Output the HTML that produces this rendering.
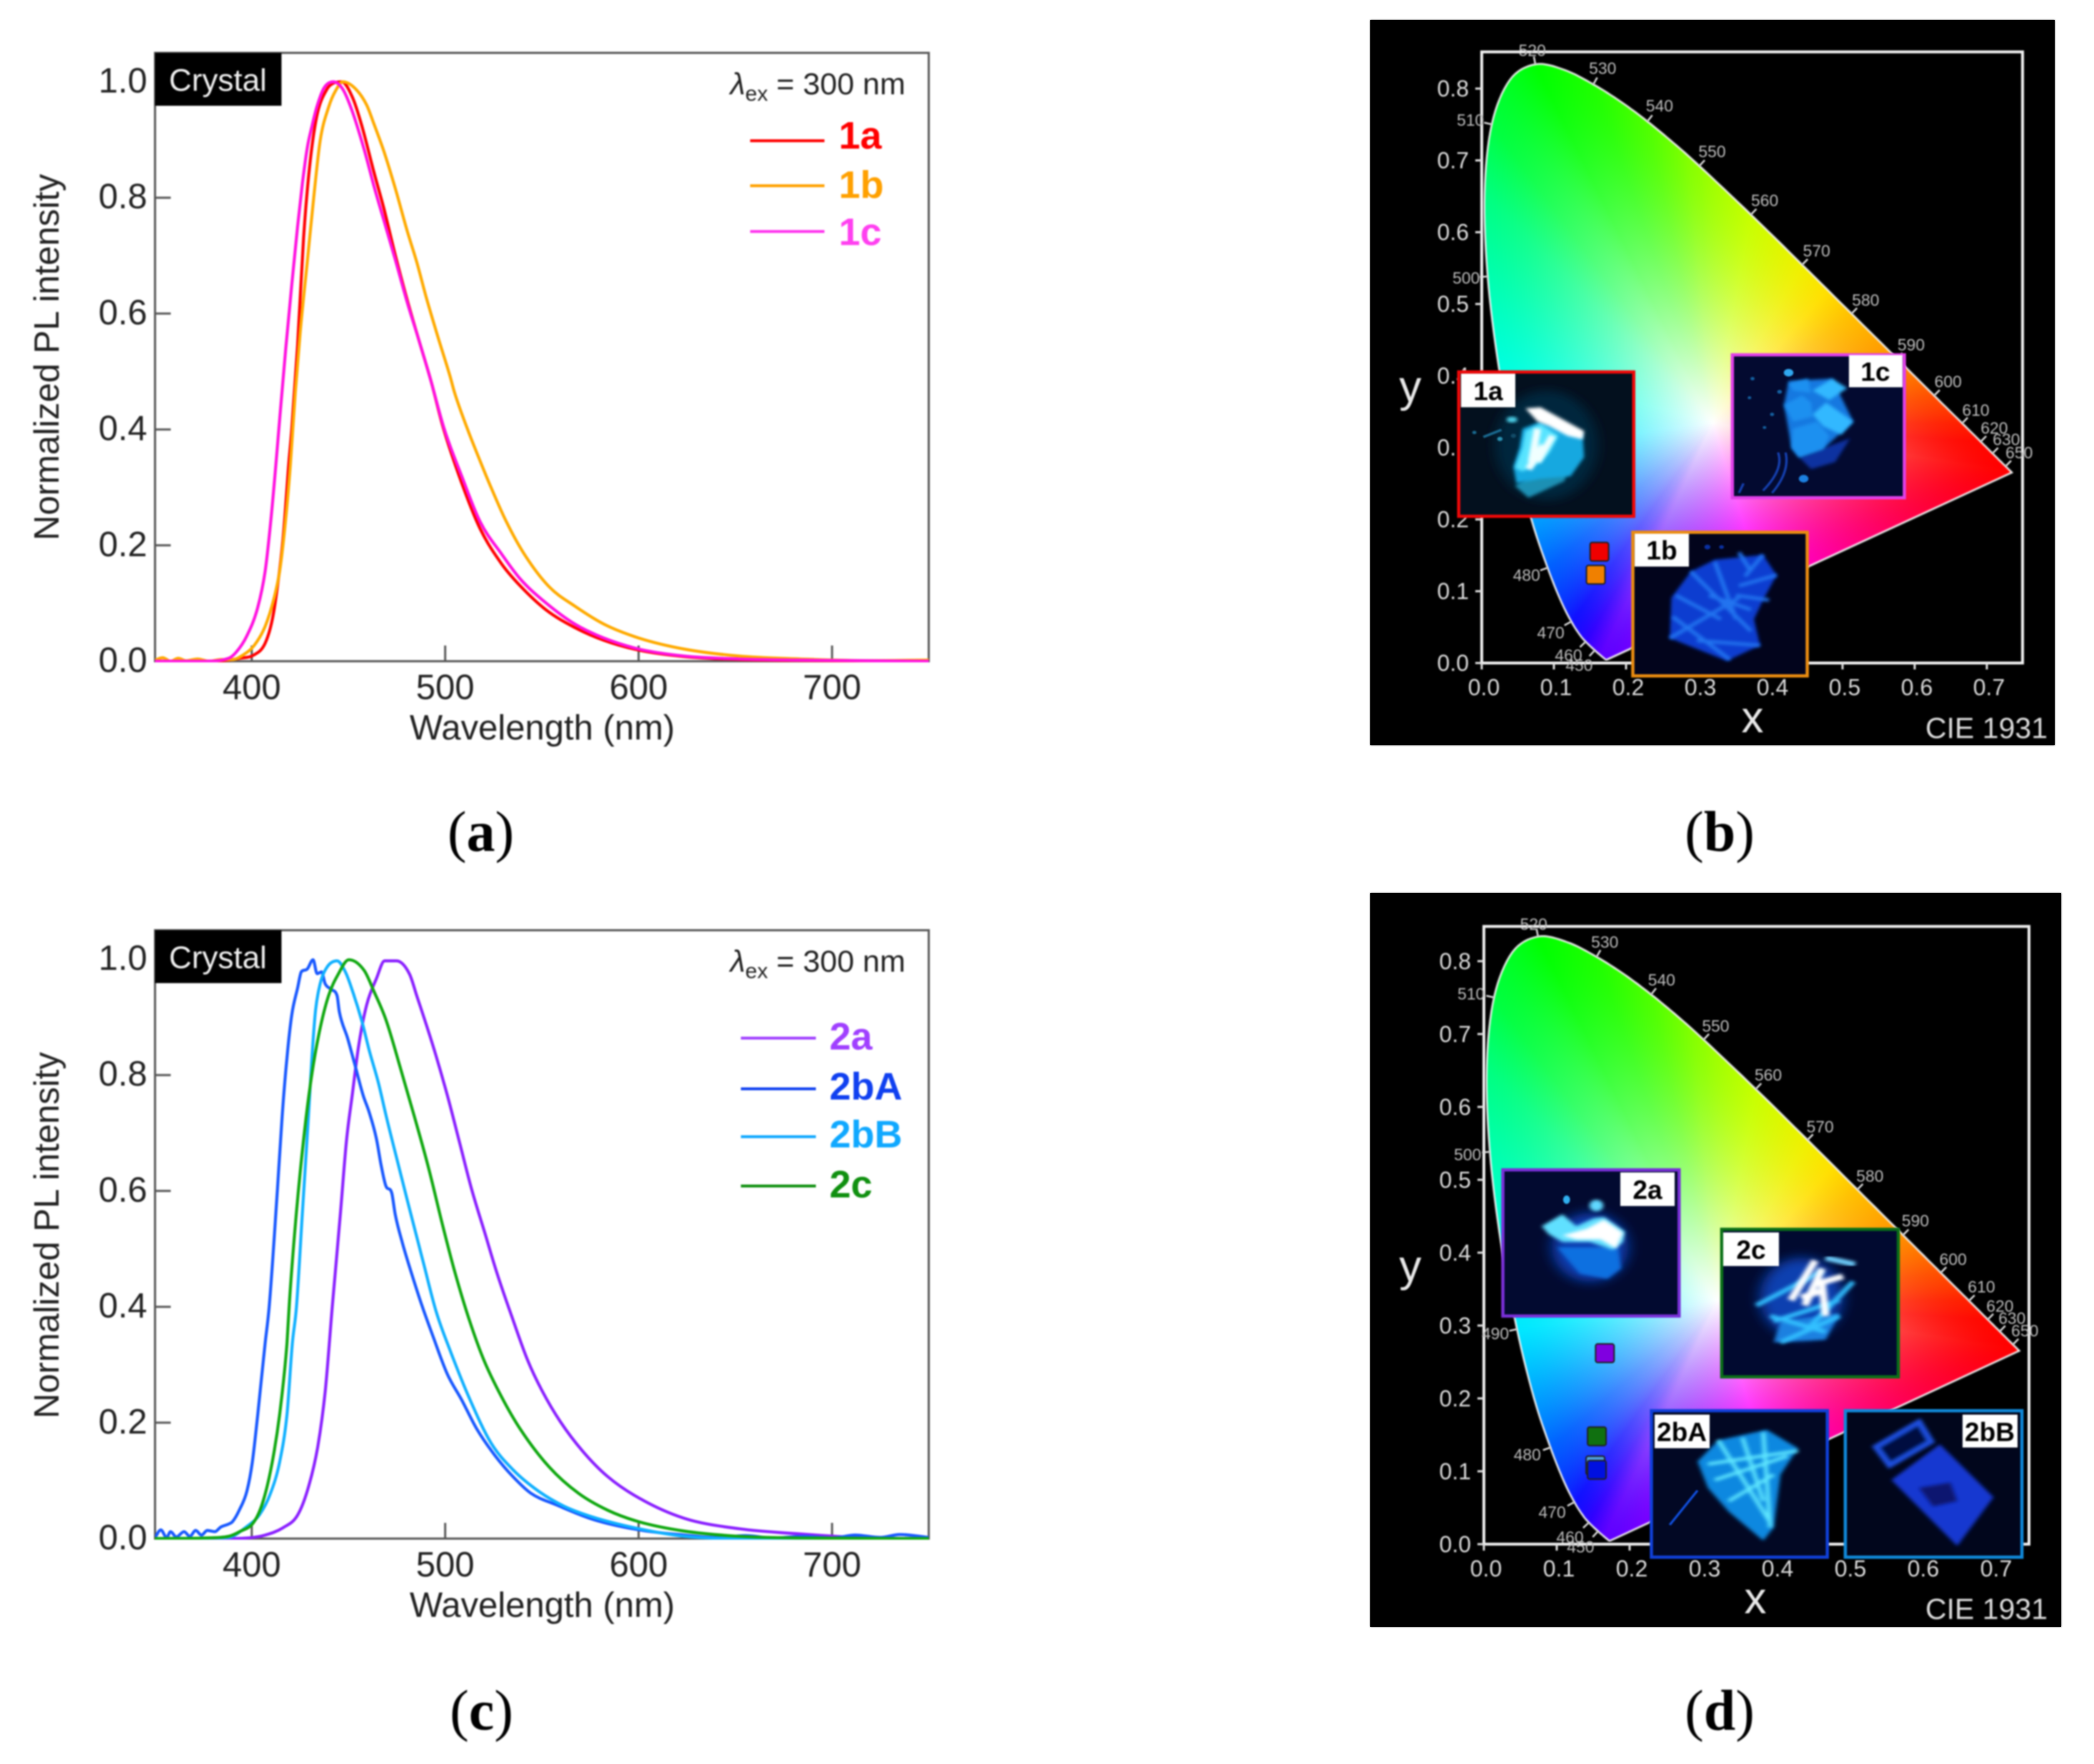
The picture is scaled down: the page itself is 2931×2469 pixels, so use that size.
<!DOCTYPE html>
<html lang="en">
<head>
<meta charset="utf-8">
<title>PL spectra and CIE 1931 diagrams</title>
<style>
html,body{margin:0;padding:0;background:#fff;}
#page{position:relative;width:2931px;height:2469px;overflow:hidden;background:#fff;font-family:"Liberation Sans",sans-serif;}
.panel{position:absolute;background:#000;}
canvas{position:absolute;display:block;filter:blur(1px);}
svg{position:absolute;left:0;top:0;filter:blur(1.1px);}
text{font-family:"Liberation Sans",sans-serif;}
.serif{font-family:"Liberation Serif",serif;font-size:80px;fill:#000;text-anchor:middle;}
.ax{font-size:49px;fill:#222;}
.wl{font-size:23px;fill:#bdbdbd;text-anchor:middle;}
.cie{font-size:32px;fill:#dcdcdc;}
.tag{font-size:37px;font-weight:bold;fill:#000;text-anchor:middle;}
.leg{font-size:54px;font-weight:bold;}
.bd{vector-effect:non-scaling-stroke;stroke-width:4.5;}
</style>
</head>
<body>
<div id="page">
  <div class="panel" style="left:1918px;top:28px;width:958px;height:1015px"></div>
  <div class="panel" style="left:1918px;top:1250px;width:967px;height:1027px"></div>
  <canvas id="canvas-b" width="958" height="1015" style="left:1918px;top:28px"></canvas>
  <canvas id="canvas-d" width="967" height="1027" style="left:1918px;top:1250px"></canvas>

  <svg id="art" width="2931" height="2469" viewBox="0 0 2931 2469" xmlns="http://www.w3.org/2000/svg">
    <defs>
      <filter id="soft" x="-20%" y="-20%" width="140%" height="140%"><feGaussianBlur stdDeviation="6"/></filter>
      <filter id="softer" x="-40%" y="-40%" width="180%" height="180%"><feGaussianBlur stdDeviation="20"/></filter>
      <clipPath id="clip-a"><rect x="217" y="74" width="1083" height="853"/></clipPath>
      <clipPath id="clip-c"><rect x="217" y="1302" width="1083" height="853"/></clipPath>
      <clipPath id="clip-1a"><rect x="28" y="62" width="582" height="606"/></clipPath>
      <clipPath id="clip-1b"><rect x="607" y="735" width="580" height="603"/></clipPath>
      <clipPath id="clip-1c"><rect x="938" y="-10" width="572" height="600"/></clipPath>
      <clipPath id="clip-2a"><rect x="28" y="47" width="509" height="553"/></clipPath>
      <clipPath id="clip-2c"><rect x="660" y="272" width="510" height="558"/></clipPath>
      <clipPath id="clip-2bA"><rect x="457" y="958" width="508" height="554"/></clipPath>
      <clipPath id="clip-2bB"><rect x="1017" y="958" width="510" height="554"/></clipPath>
    </defs>

    <!-- Panel a -->
    <g id="axes-a">
      <text class="ax" transform="translate(82,500) rotate(-90)" text-anchor="middle">Normalized PL intensity</text>
      <text class="ax" x="759" y="1035" text-anchor="middle">Wavelength (nm)</text>
    </g>
    <g id="lines-a" clip-path="url(#clip-a)"></g>
    <g>
      <rect x="217" y="74" width="177" height="74" fill="#000"/>
      <text x="305" y="127" font-size="44" fill="#f0f0f0" text-anchor="middle">Crystal</text>
      <text x="1022" y="132" font-size="43" fill="#222"><tspan font-style="italic">λ</tspan><tspan font-size="30" dy="9">ex</tspan><tspan dy="-9"> = 300 nm</tspan></text>
      <line x1="1050" x2="1154" y1="197" y2="197" stroke="#ff0000" stroke-width="4"/>
      <line x1="1050" x2="1154" y1="260" y2="260" stroke="#ffa000" stroke-width="4"/>
      <line x1="1050" x2="1154" y1="324" y2="324" stroke="#ff33ee" stroke-width="4"/>
      <text class="leg" x="1174" y="208" fill="#ff0000">1a</text>
      <text class="leg" x="1174" y="277" fill="#ffa000">1b</text>
      <text class="leg" x="1174" y="343" fill="#ff40f0">1c</text>
    </g>
    <text class="serif" x="673" y="1191">(<tspan font-weight="bold">a</tspan>)</text>

    <!-- Panel c -->
    <g id="axes-c">
      <text class="ax" transform="translate(82,1729) rotate(-90)" text-anchor="middle">Normalized PL intensity</text>
      <text class="ax" x="759" y="2263" text-anchor="middle">Wavelength (nm)</text>
    </g>
    <g id="lines-c" clip-path="url(#clip-c)"></g>
    <g>
      <rect x="217" y="1302" width="177" height="74" fill="#000"/>
      <text x="305" y="1355" font-size="44" fill="#f0f0f0" text-anchor="middle">Crystal</text>
      <text x="1022" y="1360" font-size="43" fill="#222"><tspan font-style="italic">λ</tspan><tspan font-size="30" dy="9">ex</tspan><tspan dy="-9"> = 300 nm</tspan></text>
      <line x1="1037" x2="1142" y1="1453" y2="1453" stroke="#a040ff" stroke-width="4"/>
      <line x1="1037" x2="1142" y1="1524" y2="1524" stroke="#1040f0" stroke-width="4"/>
      <line x1="1037" x2="1142" y1="1591" y2="1591" stroke="#10a8ff" stroke-width="4"/>
      <line x1="1037" x2="1142" y1="1660" y2="1660" stroke="#109010" stroke-width="4"/>
      <text class="leg" x="1161" y="1469" fill="#a040ff">2a</text>
      <text class="leg" x="1161" y="1539" fill="#1040f0">2bA</text>
      <text class="leg" x="1161" y="1606" fill="#10a8ff">2bB</text>
      <text class="leg" x="1161" y="1676" fill="#109010">2c</text>
    </g>
    <text class="serif" x="674" y="2421">(<tspan font-weight="bold">c</tspan>)</text>

    <!-- Panel b -->
    <g id="axes-b"></g>
    <g transform="translate(9.7,0) scale(0.9949)">
      <text class="wl" x="2146" y="79">520</text>
      <text class="wl" x="2245" y="104">530</text>
      <text class="wl" x="2325" y="157">540</text>
      <text class="wl" x="2399" y="221">550</text>
      <text class="wl" x="2473" y="290">560</text>
      <text class="wl" x="2546" y="361">570</text>
      <text class="wl" x="2615" y="430">580</text>
      <text class="wl" x="2679" y="493">590</text>
      <text class="wl" x="2731" y="545">600</text>
      <text class="wl" x="2770" y="585">610</text>
      <text class="wl" x="2796" y="610">620</text>
      <text class="wl" x="2813" y="626">630</text>
      <text class="wl" x="2831" y="645">650</text>
      <text class="wl" x="2059" y="177">510</text>
      <text class="wl" x="2053" y="399">500</text>
      <text class="wl" x="2138" y="817">480</text>
      <text class="wl" x="2172" y="898">470</text>
      <text class="wl" x="2197" y="930">460</text>
      <text class="wl" x="2212" y="944">450</text>
    </g>
    <text x="2453" y="1025" font-size="62" fill="#e8e8e8" text-anchor="middle">x</text>
    <text x="1974" y="562" font-size="62" fill="#e8e8e8" text-anchor="middle">y</text>
    <text x="2866" y="1033" font-size="41" fill="#dcdcdc" text-anchor="end">CIE 1931</text>
    <g id="marks-b"></g>

    <g transform="translate(2030,500) scale(0.4209,0.3333)">
      <g>
        <rect x="28" y="62" width="582" height="606" fill="#03101e"/>
        <g clip-path="url(#clip-1a)">
          <ellipse cx="320" cy="370" rx="170" ry="230" fill="#05283e" filter="url(#softer)"/>
          <path d="M215 540L300 470L390 470L380 520L260 590Z" fill="#1a90b4" filter="url(#soft)"/>
          <path d="M240 300L300 270L440 320L445 420L400 500L300 510L220 530L210 460L230 380Z" fill="#18a8e0" filter="url(#soft)"/>
          <path d="M250 310L300 280L360 330L330 400L300 440L240 480L215 465L240 380Z" fill="#58e4ff" filter="url(#soft)"/>
          <path d="M250 215L300 210L445 310L440 345L390 330L330 290L290 270Z" fill="#fff" filter="url(#soft)"/>
          <path d="M290 300L270 440M340 330L290 440M310 370L260 470" stroke="#f0ffff" stroke-width="24" fill="none" filter="url(#soft)"/>
          <ellipse cx="205" cy="262" rx="18" ry="12" fill="#50d8f0" filter="url(#soft)"/>
          <path d="M110 335L170 305" stroke="#1a6a90" stroke-width="10" fill="none"/>
          <circle cx="80" cy="316" r="7" fill="#1a6a90"/><circle cx="165" cy="343" r="9" fill="#2a90b0"/><circle cx="210" cy="330" r="9" fill="#124a66"/>
        </g>
        <rect class="bd" x="28" y="62" width="582" height="606" fill="none" stroke="#f00808"/>
      </g>
      <g>
        <rect x="607" y="735" width="580" height="603" fill="#02041c"/>
        <g clip-path="url(#clip-1b)">
          <path d="M735 1010L800 900L880 850L1040 830L1085 915L1040 1020L1010 1100L1030 1210L920 1275L730 1180Z" fill="#0a3cd0" filter="url(#soft)"/>
          <path d="M750 1000L900 1100M800 900L1000 1150M880 860L950 1100M960 820L1000 900M1040 830L980 920M1085 915L960 960M1060 1020L950 1000M740 1090L930 1270M730 1180L960 1010M820 1190L1030 1210M860 1000L1000 1060" stroke="#2474f0" stroke-width="14" fill="none" filter="url(#soft)"/>
          <circle cx="855" cy="797" r="10" fill="#0a30a0"/><circle cx="902" cy="797" r="8" fill="#0a30a0"/>
        </g>
        <rect class="bd" x="607" y="735" width="580" height="603" fill="none" stroke="#ea8c10"/>
      </g>
      <g>
        <rect x="938" y="-10" width="572" height="600" fill="#030a30"/>
        <g clip-path="url(#clip-1c)">
          <path d="M1160 420L1330 340L1280 440L1200 470Z" fill="#0c30a0" filter="url(#soft)"/>
          <path d="M1110 200L1125 100L1270 90L1340 270L1240 385L1160 420L1135 380Z" fill="#1478e0" filter="url(#soft)"/>
          <path d="M1125 110L1190 90L1200 150L1140 140ZM1110 200L1170 160L1200 190L1205 250L1140 270ZM1140 300L1220 270L1260 330L1240 385L1160 420L1135 380Z" fill="#1c90f0" filter="url(#soft)"/>
          <path d="M1205 140L1270 90L1320 130L1260 180ZM1205 240L1250 190L1340 270L1300 325L1240 290Z" fill="#30b8ff" filter="url(#soft)"/>
          <path d="M1040 560Q1110 470 1090 400M1070 570Q1130 480 1115 400M960 570L975 530" stroke="#1540b0" stroke-width="8" fill="none"/>
          <circle cx="1125" cy="65" r="16" fill="#30a8f0"/><circle cx="1175" cy="510" r="16" fill="#1c80e0"/>
          <circle cx="1070" cy="240" r="7" fill="#1560a0"/><circle cx="1095" cy="145" r="8" fill="#1560a0"/><circle cx="995" cy="170" r="6" fill="#1560a0"/><circle cx="1045" cy="295" r="6" fill="#1560a0"/><circle cx="1005" cy="90" r="7" fill="#1560a0"/>
        </g>
        <rect class="bd" x="938" y="-10" width="572" height="600" fill="none" stroke="#e040e8"/>
      </g>
    </g>
    <g>
      <rect x="2045" y="523" width="76" height="47" fill="#fff"/>
      <text class="tag" x="2083" y="560">1a</text>
      <rect x="2588" y="497" width="75" height="45" fill="#fff"/>
      <text class="tag" x="2625" y="533">1c</text>
      <rect x="2288" y="747" width="76" height="46" fill="#fff"/>
      <text class="tag" x="2326" y="783">1b</text>
    </g>
    <text class="serif" x="2407" y="1191">(<tspan font-weight="bold">b</tspan>)</text>

    <!-- Panel d -->
    <g id="axes-d"></g>
    <g transform="translate(9.7,6.3) scale(0.9949)">
      <text class="wl" x="2148" y="1302">520</text>
      <text class="wl" x="2248" y="1327">530</text>
      <text class="wl" x="2328" y="1380">540</text>
      <text class="wl" x="2404" y="1445">550</text>
      <text class="wl" x="2478" y="1514">560</text>
      <text class="wl" x="2551" y="1587">570</text>
      <text class="wl" x="2621" y="1656">580</text>
      <text class="wl" x="2685" y="1719">590</text>
      <text class="wl" x="2738" y="1773">600</text>
      <text class="wl" x="2778" y="1812">610</text>
      <text class="wl" x="2804" y="1839">620</text>
      <text class="wl" x="2821" y="1856">630</text>
      <text class="wl" x="2839" y="1874">650</text>
      <text class="wl" x="2060" y="1400">510</text>
      <text class="wl" x="2055" y="1626">500</text>
      <text class="wl" x="2094" y="1878">490</text>
      <text class="wl" x="2139" y="2048">480</text>
      <text class="wl" x="2174" y="2129">470</text>
      <text class="wl" x="2199" y="2164">460</text>
      <text class="wl" x="2214" y="2178">450</text>
    </g>
    <text x="2457" y="2258" font-size="62" fill="#e8e8e8" text-anchor="middle">x</text>
    <text x="1974" y="1793" font-size="62" fill="#e8e8e8" text-anchor="middle">y</text>
    <text x="2866" y="2266" font-size="41" fill="#dcdcdc" text-anchor="end">CIE 1931</text>
    <g id="marks-d"></g>

    <g transform="translate(2090,1620) scale(0.4847,0.37)">
      <g>
        <rect x="28" y="47" width="509" height="553" fill="#020a30"/>
        <g clip-path="url(#clip-2a)">
          <ellipse cx="280" cy="340" rx="110" ry="130" fill="#0a3cb0" filter="url(#softer)"/>
          <path d="M185 340L360 340L370 420L330 460L250 440Z" fill="#1070e0" filter="url(#soft)"/>
          <path d="M140 260L200 215L240 260L290 230L320 225L380 280L375 320L345 350L280 320L200 320L160 290Z" fill="#60e0ff" filter="url(#soft)"/>
          <path d="M200 295L270 270L320 235L375 285L355 345L310 310L240 310Z" fill="#fff" filter="url(#soft)"/>
          <ellipse cx="212" cy="160" rx="10" ry="16" fill="#30b0f0"/>
          <ellipse cx="298" cy="182" rx="20" ry="22" fill="#60d8ff" filter="url(#soft)"/>
        </g>
        <rect class="bd" x="28" y="47" width="509" height="553" fill="none" stroke="#7a30d8"/>
      </g>
      <g>
        <rect x="660" y="272" width="510" height="558" fill="#010a30"/>
        <g clip-path="url(#clip-2c)">
          <ellipse cx="890" cy="530" rx="120" ry="150" fill="#0a40b0" filter="url(#softer)"/>
          <path d="M810 700L830 620L1000 590L960 690Z" fill="#1a80e0" filter="url(#soft)"/>
          <path d="M760 560L950 430M810 620L1000 540M830 700L1000 600M900 660L1040 470M800 600L960 660" stroke="#30c0ff" stroke-width="16" fill="none" filter="url(#soft)"/>
          <path d="M860 540L930 390M900 560L950 420M960 600L950 480M930 480L1010 450M890 530L960 500" stroke="#fff" stroke-width="22" fill="none" filter="url(#soft)"/>
          <path d="M960 380L1045 405" stroke="#70d0ff" stroke-width="20" fill="none" filter="url(#soft)"/>
        </g>
        <rect class="bd" x="660" y="272" width="510" height="558" fill="none" stroke="#0a7018"/>
      </g>
      <g>
        <rect x="457" y="958" width="508" height="554" fill="#020824"/>
        <g clip-path="url(#clip-2bA)">
          <path d="M590 1150L650 1070L790 1030L880 1100L830 1200L810 1400L780 1450L680 1340L620 1250Z" fill="#1088e0" filter="url(#soft)"/>
          <path d="M620 1160L880 1110M650 1070L800 1380M720 1060L780 1300M640 1220L850 1130M680 1300L810 1200M780 1040L800 1400" stroke="#60e8ff" stroke-width="12" fill="none" filter="url(#soft)"/>
          <path d="M510 1390L590 1260" stroke="#1050e0" stroke-width="7" fill="none"/>
        </g>
        <rect class="bd" x="457" y="958" width="508" height="554" fill="none" stroke="#1040d8"/>
      </g>
      <g>
        <rect x="1017" y="958" width="510" height="554" fill="#01061c"/>
        <g clip-path="url(#clip-2bB)">
          <path d="M1150 1220L1290 1085L1445 1285L1340 1470Z" fill="#1238d0" filter="url(#soft)"/>
          <path d="M1230 1250L1320 1230L1340 1300L1270 1320Z" fill="#0c1870" filter="url(#soft)"/>
          <path d="M1105 1095L1230 1000L1265 1075L1145 1165Z" fill="#040c40" stroke="#1c50e0" stroke-width="18" filter="url(#soft)"/>
        </g>
        <rect class="bd" x="1017" y="958" width="510" height="554" fill="none" stroke="#1088d8"/>
      </g>
    </g>
    <g>
      <rect x="2268" y="1641" width="76" height="47" fill="#fff"/>
      <text class="tag" x="2306" y="1678">2a</text>
      <rect x="2412" y="1725" width="78" height="47" fill="#fff"/>
      <text class="tag" x="2451" y="1762">2c</text>
      <rect x="2316" y="1980" width="77" height="47" fill="#fff"/>
      <text class="tag" x="2354" y="2017">2bA</text>
      <rect x="2747" y="1980" width="77" height="46" fill="#fff"/>
      <text class="tag" x="2785" y="2017">2bB</text>
    </g>
    <text class="serif" x="2407" y="2421">(<tspan font-weight="bold">d</tspan>)</text>
  </svg>
</div>

<script>
// ---- Spectra ----
const xTicks = [400, 500, 600, 700];
const yTicks = ['0.0', '0.2', '0.4', '0.6', '0.8', '1.0'];

const wl1a = [350,380,388,393.7,401.2,406.9,410.7,413.5,416.3,419.1,420.7,423.7,426.8,429.9,433.6,438.5,442.5,446.5,452.1,457,463.1,468.1,474.2,480.4,486.5,492.7,498.8,508.6,518,529.4,538.8,552,567.1,582.1,600.2,623.6,651.9,690,750];
const pl1a = [0,0,0.002,0.005,0.011,0.031,0.073,0.134,0.216,0.34,0.401,0.545,0.73,0.853,0.94,0.985,0.998,1,0.973,0.923,0.845,0.784,0.701,0.623,0.553,0.483,0.405,0.307,0.229,0.167,0.13,0.089,0.058,0.036,0.019,0.008,0.003,0.001,0];

const wl1b = [350,354,358,362,366,372,378,384,390,395.6,401.2,406.9,411.6,414.4,417.2,420,422.5,425,428.7,432.4,435.4,439.7,443.4,447.1,453.3,459.4,463.1,468.1,474.2,480.4,485.3,490.2,496.4,502.5,504.9,512.4,518,523.7,531.3,540.7,553.9,567.1,582.1,600.2,623.6,651.9,683.5,720,750];
const pl1b = [0.002,0.006,0,0.005,0.001,0.004,0,0.003,0.003,0.011,0.027,0.06,0.11,0.155,0.233,0.34,0.463,0.566,0.689,0.812,0.899,0.956,0.985,1,0.989,0.96,0.928,0.882,0.816,0.742,0.689,0.628,0.558,0.492,0.463,0.393,0.346,0.3,0.243,0.186,0.128,0.095,0.064,0.04,0.021,0.009,0.004,0.001,0.002];

const wl1c = [350,375,388,391.8,397.5,403.1,406.9,409.7,412.5,414.5,417.6,420.7,423.7,426.2,428.7,431.1,433.6,437.3,442.2,447.1,452.1,458.2,463.1,468.1,474.2,480.4,486.5,492.7,499.5,508.6,518,529.4,538.8,552,567.1,582.1,600.2,623.6,651.9,683.5,750];
const pl1c = [0,0,0.005,0.015,0.044,0.093,0.155,0.237,0.34,0.42,0.54,0.65,0.75,0.825,0.886,0.923,0.956,0.989,1,0.987,0.948,0.882,0.821,0.763,0.693,0.619,0.553,0.483,0.401,0.319,0.241,0.184,0.142,0.101,0.064,0.04,0.021,0.009,0.004,0.002,0];

const wl2a = [350,385,397.5,406.9,416.3,423.8,429.5,434.2,438,441.6,445.9,449,452.1,455.1,459.4,464.4,468.7,474.8,481.6,485.3,491.4,495.1,501.3,507.5,513.6,521,526.5,535,542.6,550.1,559.5,570.8,584,600.2,623.6,651.9,683.5,720,750];
const pl2a = [0,0,0.001,0.006,0.019,0.041,0.091,0.16,0.255,0.399,0.563,0.687,0.769,0.847,0.921,0.966,0.997,0.997,0.974,0.937,0.875,0.835,0.763,0.683,0.604,0.522,0.461,0.378,0.308,0.255,0.202,0.152,0.107,0.07,0.035,0.017,0.008,0.001,0];

const wl2bA = [350,353,356,358,361,365,368,371,374,377,381,384,388,390,393.7,397.5,400.3,403.1,406.9,409,413.3,415.7,418.2,420.7,423.7,425.6,428.7,431.7,433.8,436.1,437.9,441,444.1,445.3,449.6,453.3,457.6,460.7,464.4,466.8,469.3,472.4,474.2,477.9,482.3,487.9,493.6,501.1,508.6,516.2,525.6,535,544.4,557.6,576.5,600.2,623.6,640,655,670,685,700,712,725,735,750];
const pl2bA = [0.002,0.015,0.002,0.012,0.003,0.012,0.004,0.014,0.006,0.014,0.012,0.02,0.025,0.029,0.05,0.082,0.132,0.214,0.337,0.399,0.604,0.728,0.83,0.904,0.95,0.978,0.983,0.999,0.975,0.978,0.958,0.948,0.937,0.909,0.863,0.818,0.765,0.736,0.691,0.646,0.609,0.596,0.559,0.51,0.461,0.403,0.35,0.284,0.239,0.19,0.144,0.107,0.078,0.058,0.033,0.015,0.006,0.002,0.005,0.001,0.004,0.001,0.006,0.002,0.007,0.002];

const wl2bB = [350,380,388,397.5,404,409.7,414.4,418.2,421,423.1,426.2,429.3,431.1,433,435.4,439.1,444.1,448.4,452.1,457,460.7,465.6,469.3,474.2,480.4,486.5,488.9,495.4,503,512.4,523.7,535,548.2,561.4,576.5,600.2,623.6,651.9,750];
const pl2bB = [0,0.001,0.002,0.021,0.041,0.078,0.132,0.214,0.337,0.399,0.563,0.728,0.83,0.912,0.958,0.987,0.997,0.978,0.945,0.892,0.843,0.785,0.732,0.666,0.584,0.505,0.474,0.391,0.321,0.243,0.165,0.119,0.082,0.056,0.037,0.017,0.004,0,0];

const wl2c = [350,375,388,393.7,401.2,406,410.6,414.4,418.2,419.5,423.1,427.4,431.1,434.8,439.7,444.7,450.2,458.2,463.1,469.3,476.7,484.1,491.4,498.8,504.9,512.4,520,529.4,538.8,553.9,569,584,600.2,623.6,651.9,683.5,750];
const pl2c = [0,0.001,0.004,0.012,0.029,0.066,0.132,0.214,0.337,0.41,0.563,0.707,0.802,0.872,0.937,0.974,0.999,0.98,0.945,0.896,0.814,0.728,0.64,0.539,0.461,0.378,0.308,0.243,0.189,0.123,0.078,0.049,0.029,0.013,0.004,0.001,0];

// ---- CIE 1931 spectral locus ----
const locusNm = [380,400,420,440,450,460,465,470,475,480,485,490,495,500,505,510,515,520,525,530,535,540,545,550,560,570,580,590,600,610,620,630,640,650,700];
const locusX = [0.1741,0.1733,0.1714,0.1644,0.1566,0.1440,0.1355,0.1241,0.1096,0.0913,0.0687,0.0454,0.0235,0.0082,0.0039,0.0139,0.0389,0.0743,0.1142,0.1547,0.1929,0.2296,0.2658,0.3016,0.3731,0.4441,0.5125,0.5752,0.6270,0.6658,0.6915,0.7079,0.7190,0.7260,0.7347];
const locusY = [0.0050,0.0048,0.0051,0.0109,0.0177,0.0297,0.0399,0.0578,0.0868,0.1327,0.2007,0.2950,0.4127,0.5384,0.6548,0.7502,0.8120,0.8338,0.8262,0.8059,0.7816,0.7543,0.7243,0.6923,0.6245,0.5547,0.4866,0.4242,0.3725,0.3340,0.3083,0.2920,0.2809,0.2740,0.2653];
const locusTicks = [450,460,470,480,490,500,510,520,530,540,550,560,570,580,590,600,610,620,630,650];
const hueNm = [380,440,450,460,470,480,485,490,495,500,505,510,520,530,540,550,560,570,575,580,590,600,610,620,650,700];
const hueRGB = ['#6000ff','#6000ff','#5000ff','#3000ff','#1010ff','#0060ff','#00a0ff','#00e8ff','#00ffe0','#00ffb0','#00ff80','#00ff40','#00ff00','#20ff00','#50ff00','#90ff00','#c8ff00','#f0f000','#ffe000','#ffc000','#ff9000','#ff5000','#ff2000','#ff0800','#ff0000','#ff0000'];

const cieXTicks = ['0.0','0.1','0.2','0.3','0.4','0.5','0.6','0.7'];
const cieYTicks = ['0.0','0.1','0.2','0.3','0.4','0.5','0.6','0.7','0.8'];

const pointNamesB = ['1a','1b'];
const pointXB = [0.163,0.158];
const pointYB = [0.155,0.123];
const pointColorsB = ['#f00000','#f08000'];

const pointNamesD = ['2a','2c','2bB','2bA'];
const pointXD = [0.166,0.155,0.153,0.155];
const pointYD = [0.262,0.148,0.108,0.102];
const pointColorsD = ['#8000e0','#107010','#50a0e0','#0010e0'];

const NS = 'http://www.w3.org/2000/svg';
function mk(parent, tag, attrs, txt) {
  const el = document.createElementNS(NS, tag);
  for (const k in attrs) el.setAttribute(k, attrs[k]);
  if (txt !== undefined) el.textContent = txt;
  parent.appendChild(el);
  return el;
}

// Axis functions for spectra
function xPL(nm) { return 217 + (nm - 350) * 1083 / 400; }
function yA(v) { return 925.5 - v * 811; }
function yC(v) { return 2153.5 - v * 811; }

// Monotone cubic path through the data
function curve(wl, pl, yf) {
  const n = wl.length, X = wl.map(xPL), Y = pl.map(yf), d = [], m = [];
  for (let i = 0; i < n - 1; i++) d.push((Y[i + 1] - Y[i]) / (X[i + 1] - X[i]));
  m[0] = d[0]; m[n - 1] = d[n - 2];
  for (let i = 1; i < n - 1; i++) m[i] = d[i - 1] * d[i] <= 0 ? 0 : (d[i - 1] + d[i]) / 2;
  for (let i = 1; i < n - 1; i++) {
    const lim = 3 * Math.min(Math.abs(d[i - 1]), Math.abs(d[i]));
    if (Math.abs(m[i]) > lim) m[i] = Math.sign(m[i]) * lim;
  }
  let p = 'M' + X[0].toFixed(1) + ' ' + Y[0].toFixed(1);
  for (let i = 0; i < n - 1; i++) {
    const h = (X[i + 1] - X[i]) / 3;
    p += 'C' + (X[i] + h).toFixed(1) + ' ' + (Y[i] + m[i] * h).toFixed(1) + ' ' + (X[i + 1] - h).toFixed(1) + ' ' + (Y[i + 1] - m[i + 1] * h).toFixed(1) + ' ' + X[i + 1].toFixed(1) + ' ' + Y[i + 1].toFixed(1);
  }
  return p;
}

function plotAxes(id, yf, top, suffix) {
  const g = document.getElementById(id);
  const frame = mk(g, 'rect', {x: 217, y: top, width: 1083, height: yf(0) - top, fill: 'none', stroke: '#585858', 'stroke-width': 3});
  
  
  xTicks.forEach(function (t) {
    const tick = mk(g, 'line', {x1: xPL(t), x2: xPL(t), y1: yf(0), y2: yf(0) - 22, stroke: '#585858', 'stroke-width': 3});
    
    
    const lab = mk(g, 'text', {x: xPL(t), y: yf(0) + 53, 'text-anchor': 'middle', class: 'ax'}, String(t));
    
    
  });
  yTicks.forEach(function (t) {
    const v = parseFloat(t);
    if (v > 0 && v < 1) {
      const tick = mk(g, 'line', {x1: 217, x2: 239, y1: yf(v), y2: yf(v), stroke: '#585858', 'stroke-width': 3});
      
      
    }
    const lab = mk(g, 'text', {x: 206, y: yf(v) + 15, 'text-anchor': 'end', class: 'ax'}, t);
    
    
  });
}
plotAxes('axes-a', yA, 74, 'a');
plotAxes('axes-c', yC, 1302, 'c');

function drawLine(gid, wl, pl, yf, color, name) {
  const el = mk(document.getElementById(gid), 'path', {d: curve(wl, pl, yf), fill: 'none', stroke: color, 'stroke-width': 4.2, 'stroke-linejoin': 'round'});
  
  
}
drawLine('lines-a', wl1a, pl1a, yA, '#ff0000', 'series-1a');
drawLine('lines-a', wl1b, pl1b, yA, '#ffaa00', 'series-1b');
drawLine('lines-a', wl1c, pl1c, yA, '#ff10e0', 'series-1c');
drawLine('lines-c', wl2a, pl2a, yC, '#8a20ff', 'series-2a');
drawLine('lines-c', wl2bA, pl2bA, yC, '#1858ff', 'series-2bA');
drawLine('lines-c', wl2bB, pl2bB, yC, '#10b0ff', 'series-2bB');
drawLine('lines-c', wl2c, pl2c, yC, '#10a810', 'series-2c');

// ---- Chromaticity field: each pixel blends the white point with the locus hue on its ray ----
function hex(c) { return [parseInt(c.slice(1, 3), 16), parseInt(c.slice(3, 5), 16), parseInt(c.slice(5, 7), 16)]; }
function hueAt(nm) {
  let i = 0;
  while (i < hueNm.length - 2 && hueNm[i + 1] < nm) i++;
  const t = Math.max(0, Math.min(1, (nm - hueNm[i]) / (hueNm[i + 1] - hueNm[i])));
  const a = hex(hueRGB[i]), b = hex(hueRGB[i + 1]);
  return [a[0] + (b[0] - a[0]) * t, a[1] + (b[1] - a[1]) * t, a[2] + (b[2] - a[2]) * t];
}
function denseLocus() {
  const out = [], n = locusX.length;
  for (let i = 0; i < n - 1; i++) {
    const a = Math.max(0, i - 1), b = Math.min(n - 1, i + 2);
    for (let k = 0; k < 8; k++) {
      const t = k / 8, t2 = t * t, t3 = t2 * t;
      const cr = function (p0, p1, p2, p3) { return 0.5 * (2 * p1 + (p2 - p0) * t + (2 * p0 - 5 * p1 + 4 * p2 - p3) * t2 + (3 * p1 - p0 - 3 * p2 + p3) * t3); };
      out.push({x: cr(locusX[a], locusX[i], locusX[i + 1], locusX[b]), y: cr(locusY[a], locusY[i], locusY[i + 1], locusY[b]), nm: locusNm[i] + (locusNm[i + 1] - locusNm[i]) * t});
    }
  }
  out.push({x: locusX[n - 1], y: locusY[n - 1], nm: locusNm[n - 1]});
  return out;
}
const dense = denseLocus();
const WPX = 0.32, WPY = 0.335, BINS = 2880;
const binD = new Float32Array(BINS), binR = new Float32Array(BINS), binG = new Float32Array(BINS), binB = new Float32Array(BINS), binSet = new Uint8Array(BINS);
function store(x, y, c) {
  const a = Math.atan2(y - WPY, x - WPX);
  const b = Math.min(BINS - 1, Math.floor((a + Math.PI) / (2 * Math.PI) * BINS));
  binD[b] = Math.hypot(x - WPX, y - WPY);
  binR[b] = c[0]; binG[b] = c[1]; binB[b] = c[2]; binSet[b] = 1;
}
for (let i = 0; i < dense.length - 1; i++) {
  for (let k = 0; k < 12; k++) {
    const t = k / 12, p = dense[i], q = dense[i + 1];
    store(p.x + (q.x - p.x) * t, p.y + (q.y - p.y) * t, hueAt(p.nm + (q.nm - p.nm) * t));
  }
}
(function () {
  const p = dense[dense.length - 1], q = dense[0], cr = hueAt(700), cv = hueAt(380);
  for (let k = 0; k <= 3000; k++) {
    const t = k / 3000;
    let c = [cr[0] + (cv[0] - cr[0]) * t, cr[1] + (cv[1] - cr[1]) * t, cr[2] + (cv[2] - cr[2]) * t];
    const mx = Math.max(c[0], c[1], c[2]);
    c = [c[0] * 255 / mx, c[1] * 255 / mx, c[2] * 255 / mx];
    store(p.x + (q.x - p.x) * t, p.y + (q.y - p.y) * t, c);
  }
})();
(function () {
  let last = 0;
  for (let i = 0; i < BINS; i++) if (binSet[i]) last = i;
  for (let i = 0; i < BINS; i++) {
    if (binSet[i]) { last = i; }
    else { binD[i] = binD[last]; binR[i] = binR[last]; binG[i] = binG[last]; binB[i] = binB[last]; }
  }
})();

function drawCie(cfg) {
  const xf = cfg.xf, yf = cfg.yf;
  const g = document.getElementById(cfg.axes);
  const frame = mk(g, 'rect', {x: xf(0), y: cfg.top, width: cfg.right - xf(0), height: yf(0) - cfg.top, fill: 'none', stroke: '#f0f0f0', 'stroke-width': 4});
  
  
  cieXTicks.forEach(function (t) {
    const v = parseFloat(t);
    const tick = mk(g, 'line', {x1: xf(v), x2: xf(v), y1: yf(0), y2: yf(0) + 9, stroke: '#ddd', 'stroke-width': 3});
    
    
    const lab = mk(g, 'text', {x: xf(v) + 3, y: yf(0) + 45, 'text-anchor': 'middle', class: 'cie'}, t);
    
    
  });
  cieYTicks.forEach(function (t) {
    const v = parseFloat(t);
    const tick = mk(g, 'line', {x1: xf(0) - 9, x2: xf(0), y1: yf(v), y2: yf(v), stroke: '#ddd', 'stroke-width': 3});
    
    
    const lab = mk(g, 'text', {x: xf(0) - 18, y: yf(v) + 11, 'text-anchor': 'end', class: 'cie'}, t);
    
    
  });

  locusTicks.forEach(function (nm) {
    const i = locusNm.indexOf(nm);
    const px = xf(locusX[i]), py = yf(locusY[i]);
    const tx = xf(locusX[i + 1]) - xf(locusX[i - 1]), ty = yf(locusY[i + 1]) - yf(locusY[i - 1]);
    const len = Math.hypot(tx, ty) || 1;
    let nx = ty / len, ny = -tx / len;
    if ((px - xf(0.33)) * nx + (py - yf(0.33)) * ny < 0) { nx = -nx; ny = -ny; }
    const tick = mk(g, 'line', {x1: px, y1: py, x2: px + nx * 11, y2: py + ny * 11, stroke: '#ddd', 'stroke-width': 2.5});
    
    
  });

  const cv = document.getElementById(cfg.canvas), ctx = cv.getContext('2d');
  const ox = cfg.ox, oy = cfg.oy, W = cv.width, H = cv.height;
  const img = ctx.createImageData(W, H), D = img.data;
  const kx = 1 / (xf(1) - xf(0)), ky = 1 / (yf(0) - yf(1));
  for (let j = 0; j < H; j++) {
    const y = (yf(0) - (j + oy)) * ky - WPY;
    for (let i = 0; i < W; i++) {
      const x = (i + ox - xf(0)) * kx - WPX;
      const b = Math.min(BINS - 1, Math.floor((Math.atan2(y, x) + Math.PI) / (2 * Math.PI) * BINS));
      const t = Math.min(1, Math.hypot(x, y) / binD[b]);
      const f = 1 - Math.pow(1 - t, 1.5);
      const p = (j * W + i) * 4;
      D[p] = 255 * (1 - f) + binR[b] * f;
      D[p + 1] = 255 * (1 - f) + binG[b] * f;
      D[p + 2] = 255 * (1 - f) + binB[b] * f;
      D[p + 3] = 255;
    }
  }
  ctx.putImageData(img, 0, 0);
  function trace() {
    ctx.beginPath();
    dense.forEach(function (q, i) {
      const px = xf(q.x) - ox, py = yf(q.y) - oy;
      if (i === 0) ctx.moveTo(px, py); else ctx.lineTo(px, py);
    });
    ctx.closePath();
  }
  trace();
  ctx.globalCompositeOperation = 'destination-in';
  ctx.fillStyle = '#000';
  ctx.fill();
  ctx.globalCompositeOperation = 'source-over';
  trace();
  ctx.strokeStyle = '#f4f4f4';
  ctx.lineWidth = 2.5;
  ctx.stroke();
  ctx.globalCompositeOperation = 'destination-over';
  ctx.fillStyle = '#000';
  ctx.fillRect(0, 0, W, H);
  ctx.globalCompositeOperation = 'source-over';

  const mg = document.getElementById(cfg.marks);
  cfg.names.forEach(function (n, i) {
    const s = mk(mg, 'rect', {x: xf(cfg.px[i]) - 13, y: yf(cfg.py[i]) - 13, width: 26, height: 26, rx: 3, fill: cfg.colors[i], stroke: '#202020', 'stroke-width': 2});
    
    
  });
}

function xB(v) { return 2074 + 1010 * v; }
function yB(v) { return 928 - 1005 * v; }
function xD(v) { return 2077 + 1020 * v; }
function yD(v) { return 2161.3 - 1020 * v; }

drawCie({xf: xB, yf: yB, top: 72.6, right: 2831, axes: 'axes-b', canvas: 'canvas-b', marks: 'marks-b', ox: 1918, oy: 28, names: pointNamesB, px: pointXB, py: pointYB, colors: pointColorsB});
drawCie({xf: xD, yf: yD, top: 1296.7, right: 2840, axes: 'axes-d', canvas: 'canvas-d', marks: 'marks-d', ox: 1918, oy: 1250, names: pointNamesD, px: pointXD, py: pointYD, colors: pointColorsD});
</script>
</body>
</html>
